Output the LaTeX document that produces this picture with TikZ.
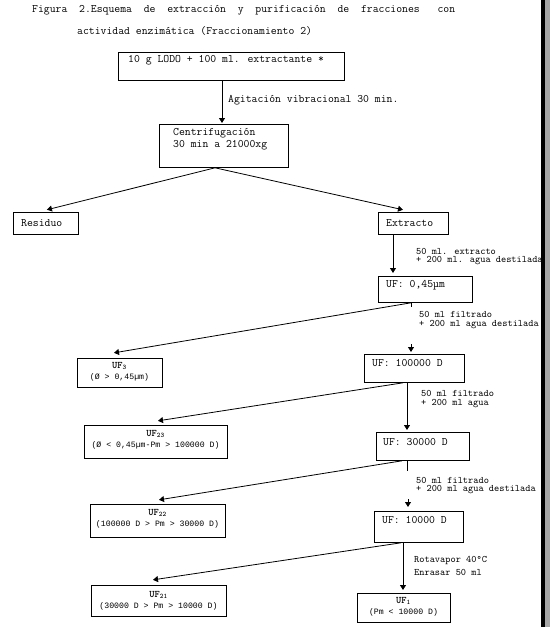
\documentclass[tikz,border=0pt]{standalone}
\usepackage{fontspec}
\newfontfamily\libmono{Liberation Mono}
\usetikzlibrary{arrows.meta,calc}
\tikzset{
 box/.style={draw, line width=0.8pt, inner sep=0, anchor=north west},
 txt/.style={anchor=west, inner sep=0, font=\ttfamily\fontsize{11.4}{13}\selectfont},
 lbl/.style={anchor=west, inner sep=0, font=\ttfamily\fontsize{9.9}{11}\selectfont},
 subtxt/.style={anchor=center, inner sep=0, font=\libmono\fontsize{8.2}{9}\selectfont},
 uftxt/.style={anchor=center, inner sep=0, font=\ttfamily\bfseries\fontsize{10}{11}\selectfont},
 con/.style={line width=0.8pt},
 arr/.style={line width=0.8pt, -{Triangle[length=5pt,width=6pt]}, shorten >=1pt},
}
\begin{document}
\begin{tikzpicture}[x=1pt,y=1pt]
\useasboundingbox (0,0) rectangle (550,-627);
% title
\node[txt] (t1) at (32,-10) {\makebox[423pt][l]{Figura\hfill 2.Esquema\hfill de\hfill extracción\hfill y\hfill purificación\hfill de\hfill fracciones\hfill\hspace{6pt}con}};
\node[txt] (t2) at (77,-31) {actividad enzimática (Fraccionamiento 2)};
% boxes
\node[box, minimum width=226pt, minimum height=28pt] (b1) at (118,-52) {};
\node[txt] (b1t) at (128,-60) {10 g LODO + 100 ml. extractante *};
\node[box, minimum width=129pt, minimum height=43pt] (cen) at (159,-124) {};
\node[txt] (cent1) at (173,-133) {Centrifugación};
\node[txt] (cent2) at (173,-145) {30 min a 21000xg};
\node[box, minimum width=65pt, minimum height=22pt] (res) at (13,-212) {};
\node[txt] (rest) at (21,-223) {Residuo};
\node[box, minimum width=70pt, minimum height=22pt] (ext) at (378,-212) {};
\node[txt] (extt) at (386,-223) {Extracto};
\node[box, minimum width=94pt, minimum height=26pt] (u045) at (378,-276) {};
\node[txt] (u045t) at (386,-285) {UF: 0,45µm};
\node[box, minimum width=85pt, minimum height=29pt] (uf3) at (77,-358) {};
\node[uftxt] (uf3a) at (119.5,-366) {UF\textsubscript{3}};
\node[subtxt] (uf3b) at (119.5,-377) {(Ø > 0,45µm)};
\node[box, minimum width=100pt, minimum height=28pt] (u100k) at (364,-354) {};
\node[txt] (u100kt) at (372,-363) {UF: 100000 D};
\node[box, minimum width=143pt, minimum height=33pt] (uf23) at (84,-425) {};
\node[uftxt] (uf23a) at (155.5,-434) {UF\textsubscript{23}};
\node[subtxt] (uf23b) at (155.5,-445) {(Ø < 0,45µm-Pm > 100000 D)};
\node[box, minimum width=93pt, minimum height=28pt] (u30k) at (376,-432) {};
\node[txt] (u30kt) at (383,-442) {UF: 30000 D};
\node[box, minimum width=135pt, minimum height=33pt] (uf22) at (90,-504) {};
\node[uftxt] (uf22a) at (157.5,-513) {UF\textsubscript{22}};
\node[subtxt] (uf22b) at (157.5,-524) {(100000 D > Pm > 30000 D)};
\node[box, minimum width=89pt, minimum height=31pt] (u10k) at (374,-511) {};
\node[txt] (u10kt) at (382,-520) {UF: 10000 D};
\node[box, minimum width=135pt, minimum height=31pt] (uf21) at (91,-585) {};
\node[uftxt] (uf21a) at (158.5,-595) {UF\textsubscript{21}};
\node[subtxt] (uf21b) at (158.5,-606) {(30000 D > Pm > 10000 D)};
\node[box, minimum width=93pt, minimum height=29pt] (uf1) at (357,-593) {};
\node[uftxt] (uf1a) at (403.5,-601) {UF\textsubscript{1}};
\node[subtxt] (uf1b) at (403.5,-612) {(Pm < 10000 D)};
% labels
\node[txt] (l1) at (228,-100) {Agitación vibracional 30 min.};
\node[lbl] (l2a) at (416,-251) {50 ml. extracto};
\node[lbl] (l2b) at (416,-261) {+ 200 ml. agua destilada};
\node[lbl] (l3a) at (419,-314) {50 ml filtrado};
\node[lbl] (l3b) at (419,-325) {+ 200 ml agua destilada};
\node[lbl] (l4a) at (421,-393) {50 ml filtrado};
\node[lbl] (l4b) at (421,-404) {+ 200 ml agua};
\node[lbl] (l5a) at (416,-480) {50 ml filtrado};
\node[lbl] (l5b) at (416,-490) {+ 200 ml agua destilada};
\node[lbl] (l6a) at (414,-561) {Rotavapor 40°C};
\node[lbl] (l6b) at (414,-572) {Enrasar 50 ml};
% connectors
\draw[arr] (b1.south -| 222,0) -- (cen.north -| 222,0);
\draw[arr] (cen.south -| 215,0) -- ($(res.north -| 46,0)+(0,2)$);
\draw[arr] (cen.south -| 215,0) -- ($(ext.north -| 404,0)+(0,2)$);
\draw[arr] (ext.south -| 393,0) -- ($(u045.north -| 393,0)+(0,2)$);
\draw[arr] (u045.south -| 411,0) -- ($(uf3.north -| 113,0)+(0,5)$);
\draw[con] (u045.south -| 411,0) -- ++(0,-4);
\draw[arr] ($(u100k.north -| 411,0)+(0,10)$) -- ($(u100k.north -| 411,0)+(0,1)$);
\draw[arr] (u100k.south -| 403,0) -- ($(uf23.north -| 157,0)+(0,4)$);
\draw[arr] (u100k.south -| 407,0) -- ($(u30k.north -| 407,0)+(0,1)$);
\draw[arr] (u30k.south -| 402,0) -- ($(uf22.north -| 158,0)+(0,4)$);
\draw[con] (u30k.south -| 407,0) -- ++(0,-10);
\draw[arr] ($(u10k.north -| 408,0)+(0,12)$) -- ($(u10k.north -| 408,0)+(0,3)$);
\draw[arr] (u10k.south -| 401,0) -- ($(uf21.north -| 152,0)+(0,5)$);
\draw[arr] (u10k.south -| 403,0) -- ($(uf1.north -| 403,0)+(0,2)$);
% right edge bar
\fill[black] (541,0) rectangle (545,-627);
\fill[gray!70] (545,0) rectangle (550,-627);
\end{tikzpicture}
\end{document}
